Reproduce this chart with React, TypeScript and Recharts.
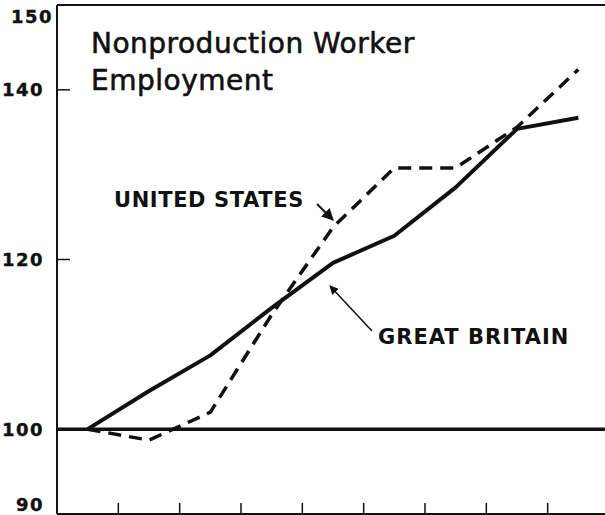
import { Customized, Line, LineChart, ReferenceLine, XAxis, YAxis } from 'recharts'

const periods = [1, 2, 3, 4, 5, 6, 7, 8, 9]
const greatBritain = [100, 104.5, 108.7, 114.3, 119.6, 122.8, 128.5, 135.4, 136.7]
const unitedStates = [100, 98.7, 102.0, 113.5, 123.8, 130.8, 130.8, 135.6, 142.4]
const yTicks = [90, 100, 120, 140, 150]
const innerYTicks = [120, 140]
const xTicks = [1.5, 2.5, 3.5, 4.5, 5.5, 6.5, 7.5, 8.5]
const titleLines = ['Nonproduction Worker', 'Employment']

const data = periods.map((period, i) => ({
  period,
  gb: greatBritain[i],
  us: unitedStates[i],
}))

const INK = '#111'
const FONT = '"DejaVu Sans", sans-serif'

function LeftTick(props: { x?: number; y?: number; payload?: { value: number } }) {
  const x = props.x ?? 0
  const y = props.y ?? 0
  const value = props.payload?.value ?? 0
  const dy = value === 150 ? 11 : value === 90 ? -10 : 0
  const dx = value === 150 ? -4 : -13
  return (
    <g>
      {innerYTicks.includes(value) && (
        <line x1={x} x2={x + 13} y1={y} y2={y} stroke={INK} strokeWidth={1.5} />
      )}
      <text
        x={x + dx}
        y={y + dy}
        textAnchor="end"
        dominantBaseline="central"
        fontFamily={FONT}
        fontWeight="bold"
        fontSize={18}
        letterSpacing={1.5}
        stroke={INK}
        strokeWidth={0.4}
        fill={INK}
      >
        {value}
      </text>
    </g>
  )
}

function RightTick(props: { x?: number; y?: number }) {
  const x = props.x ?? 0
  const y = props.y ?? 0
  return <line x1={x} x2={x - 13} y1={y} y2={y} stroke={INK} strokeWidth={1.5} />
}

function BottomTick(props: { x?: number; y?: number }) {
  const x = props.x ?? 0
  const y = props.y ?? 0
  return <line x1={x} x2={x} y1={y} y2={y - 11} stroke={INK} strokeWidth={1.5} />
}

function Annotations() {
  return (
    <g fill={INK} fontFamily={FONT}>
      <defs>
        <marker id="head" viewBox="0 0 10 10" refX="9" refY="5" markerWidth="6" markerHeight="6" orient="auto">
          <path d="M0,0 L10,5 L0,10 z" fill={INK} />
        </marker>
      </defs>
      {titleLines.map((line, i) => (
        <text key={line} x={91} y={53 + i * 37} fontSize={28} letterSpacing={0.5} stroke={INK} strokeWidth={0.6}>
          {line}
        </text>
      ))}
      <text x={114} y={207} fontSize={21} fontWeight="bold" letterSpacing={0.6}>
        UNITED STATES
      </text>
      <text x={378} y={344} fontSize={21} fontWeight="bold" letterSpacing={1}>
        GREAT BRITAIN
      </text>
      <line x1={317} y1={204} x2={333} y2={220} stroke={INK} strokeWidth={2} markerEnd="url(#head)" />
      <line x1={372} y1={331} x2={330} y2={286} stroke={INK} strokeWidth={1.5} markerEnd="url(#head)" />
    </g>
  )
}

export default function App() {
  return (
    <div style={{ position: 'absolute', left: 0, top: 0, width: 605, height: 515, overflow: 'hidden', background: '#fff' }}>
      <LineChart width={620} height={520} data={data} margin={{ top: 5, right: 0, bottom: 0, left: 0 }}>
        <XAxis
          type="number"
          dataKey="period"
          domain={[0.5, 9.5]}
          ticks={xTicks}
          height={6}
          tickSize={0}
          tickMargin={0}
          tickLine={false}
          tick={<BottomTick />}
          axisLine={{ stroke: INK, strokeWidth: 2 }}
          allowDataOverflow
        />
        <YAxis
          yAxisId="left"
          domain={[90, 150]}
          ticks={yTicks}
          width={57}
          tickSize={0}
          tickMargin={0}
          tickLine={false}
          tick={<LeftTick />}
          axisLine={{ stroke: INK, strokeWidth: 2 }}
          interval={0}
        />
        <YAxis
          yAxisId="right"
          orientation="right"
          domain={[90, 150]}
          ticks={innerYTicks}
          width={11}
          tickSize={0}
          tickMargin={0}
          tickLine={false}
          tick={<RightTick />}
          axisLine={false}
        />
        <ReferenceLine yAxisId="left" y={150} stroke={INK} strokeWidth={2} />
        <ReferenceLine yAxisId="left" y={100} stroke={INK} strokeWidth={3.5} />
        <Line
          yAxisId="left"
          type="linear"
          dataKey="gb"
          stroke={INK}
          strokeWidth={4}
          strokeLinejoin="round"
          dot={false}
          isAnimationActive={false}
        />
        <Line
          yAxisId="left"
          type="linear"
          dataKey="us"
          stroke={INK}
          strokeWidth={3.5}
          strokeDasharray="13 8"
          dot={false}
          isAnimationActive={false}
        />
        <Customized component={Annotations} />
      </LineChart>
    </div>
  )
}
